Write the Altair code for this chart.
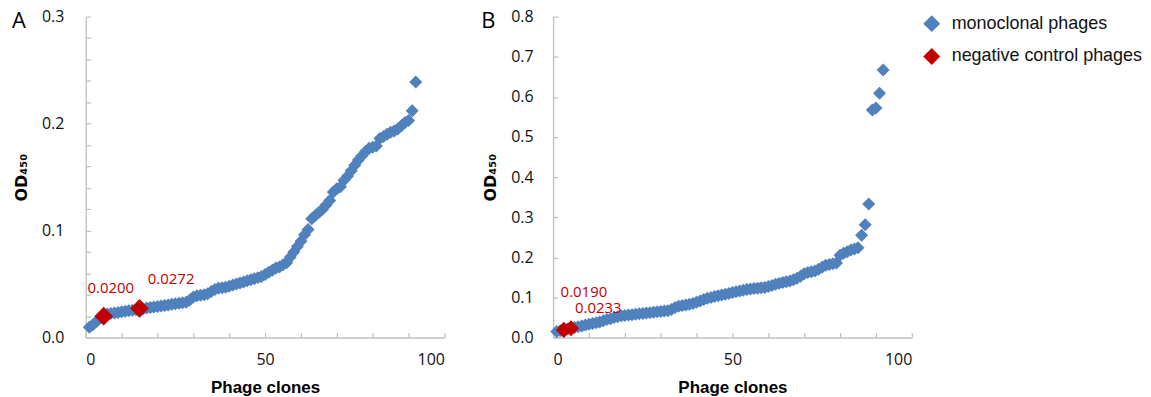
import altair as alt
import pandas as pd

BLUE = "#4F81BD"
RED = "#C00000"
GREY = "#BFBFBF"
series_names = ["monoclonal phages", "negative control phages"]

# ---------------- Panel A data ----------------
clones_a = list(range(1, 93))
od_a = [
    0.0095, 0.012, 0.015, 0.018, 0.0200, 0.022, 0.0225, 0.023, 0.0235, 0.024,
    0.0245, 0.025, 0.0255, 0.026, 0.0272, 0.027, 0.0275, 0.028, 0.0285, 0.029,
    0.0295, 0.030, 0.0305, 0.031, 0.0315, 0.032, 0.0325, 0.033, 0.035, 0.038,
    0.039, 0.0395, 0.040, 0.041, 0.043, 0.045, 0.046, 0.0465, 0.047, 0.048,
    0.049, 0.050, 0.051, 0.052, 0.053, 0.054, 0.055, 0.056, 0.057, 0.059,
    0.061, 0.063, 0.065, 0.066, 0.068, 0.070, 0.075, 0.080, 0.085, 0.090,
    0.096, 0.101, 0.111, 0.114, 0.117, 0.120, 0.124, 0.128, 0.136, 0.139,
    0.141, 0.147, 0.151, 0.156, 0.161, 0.166, 0.170, 0.174, 0.177, 0.178,
    0.179, 0.186, 0.188, 0.190, 0.192, 0.193, 0.195, 0.198, 0.201, 0.203,
    0.212, 0.239,
]
neg_clones_a = [5, 15]
neg_labels_a = ["0.0200", "0.0272"]
neg_label_x_a = [7.0, 23.8]
neg_label_y_a = [0.0466, 0.0544]

# ---------------- Panel B data ----------------
clones_b = list(range(1, 93))
od_b = [
    0.015, 0.017, 0.019, 0.021, 0.0233, 0.025, 0.027, 0.029, 0.031, 0.033,
    0.035, 0.037, 0.039, 0.042, 0.045, 0.047, 0.050, 0.052, 0.054, 0.055,
    0.056, 0.057, 0.058, 0.059, 0.060, 0.061, 0.062, 0.063, 0.064, 0.065,
    0.066, 0.067, 0.070, 0.075, 0.078, 0.080, 0.081, 0.083, 0.085, 0.088,
    0.091, 0.095, 0.098, 0.100, 0.102, 0.104, 0.106, 0.108, 0.110, 0.112,
    0.114, 0.116, 0.118, 0.120, 0.121, 0.122, 0.123, 0.124, 0.125, 0.127,
    0.130, 0.133, 0.135, 0.137, 0.139, 0.141, 0.144, 0.148, 0.153, 0.159,
    0.162, 0.164, 0.166, 0.170, 0.175, 0.180, 0.182, 0.184, 0.186, 0.205,
    0.210, 0.214, 0.218, 0.221, 0.224, 0.255, 0.281, 0.333, 0.567, 0.572,
    0.609, 0.667,
]
neg_clones_b = [3, 5]
neg_labels_b = ["0.0190", "0.0233"]
neg_label_x_b = [8.6, 12.6]
neg_label_y_b = [0.114, 0.0745]


def split(clones, od, neg):
    rows = [
        {"clone": c, "od": v,
         "series": series_names[1] if c in neg else series_names[0]}
        for c, v in zip(clones, od)
    ]
    df = pd.DataFrame(rows)
    return df[df.series == series_names[0]], df[df.series == series_names[1]]


color_scale = alt.Scale(domain=series_names, range=[BLUE, RED])
TICK_FONT = "Open Sans"
TITLE_FONT = "Liberation Sans"


def panel(clones, od, neg, labels, lx, ly, letter, letter_dx, ymax,
          ystep_minor, label_pad, red_size, W=360, H=322):
    mono, negdf = split(clones, od, neg)
    lab_df = pd.DataFrame({"lx": lx, "ly": ly, "txt": labels})
    xs = alt.Scale(domain=[0, 100], nice=False, zero=False)
    ys = alt.Scale(domain=[0, ymax], nice=False)
    n_major = int(round(ymax / 0.1))
    major_y = [round(i * 0.1, 2) for i in range(n_major + 1)]
    n_minor = int(round(ymax / ystep_minor))
    minor_y = [round(i * ystep_minor, 3) for i in range(n_minor + 1)]

    main_x = alt.Axis(orient="bottom", values=[0, 50, 100], tickSize=0,
                      domainColor=GREY, domainWidth=1.3, labelFont=TICK_FONT,
                      labelFontSize=16, labelColor="#111", labelPadding=14,
                      title="Phage clones", titleFont=TITLE_FONT,
                      titleFontSize=17, titleFontWeight="bold",
                      titleColor="#000", titlePadding=12, grid=False)
    main_y = alt.Axis(orient="left", values=major_y, format=".1f", tickSize=0,
                      domainColor=GREY, domainWidth=1.3, labelFont=TICK_FONT,
                      labelFontSize=16, labelColor="#111",
                      labelPadding=label_pad, title="OD₄₅₀",
                      titleFont="DejaVu Sans", titleFontSize=16,
                      titleFontWeight="bold", titleColor="#000",
                      titlePadding=12, grid=False)
    tick_x = alt.Axis(orient="top", offset=-H, values=list(range(0, 101, 10)),
                      tickSize=5, tickColor=GREY, tickWidth=1.2, labels=False,
                      domain=False, title=None, grid=False)
    tick_y = alt.Axis(orient="right", offset=-W, values=minor_y, tickSize=5,
                      tickColor=GREY, tickWidth=1.2, labels=False,
                      domain=False, title=None, grid=False)

    legend = alt.Legend(title=None, orient="none", legendX=840, legendY=-2,
                        padding=0, symbolType="diamond", symbolSize=289,
                        symbolStrokeWidth=0, labelFont=TITLE_FONT,
                        labelFontSize=18, labelColor="#111", rowPadding=15,
                        labelOffset=11, labelLimit=400)

    blue = alt.Chart(mono).mark_point(
        shape="diamond", filled=True, size=170, opacity=1, strokeWidth=0
    ).encode(
        x=alt.X("clone:Q", scale=xs, axis=main_x),
        y=alt.Y("od:Q", scale=ys, axis=main_y),
        color=alt.Color("series:N", scale=color_scale, legend=legend),
    )
    red = alt.Chart(negdf).mark_point(
        shape="diamond", filled=True, size=red_size, opacity=1, strokeWidth=0
    ).encode(
        x=alt.X("clone:Q", scale=xs, axis=tick_x),
        y=alt.Y("od:Q", scale=ys, axis=tick_y),
        color=alt.Color("series:N", scale=color_scale, legend=legend),
    )
    txt = alt.Chart(lab_df).mark_text(
        color=RED, font=TICK_FONT, fontSize=15
    ).encode(
        x=alt.X("lx:Q", scale=xs, axis=None),
        y=alt.Y("ly:Q", scale=ys, axis=None),
        text="txt:N",
    )
    let = alt.Chart(pd.DataFrame({"t": [letter]})).mark_text(
        align="left", baseline="alphabetic", font=TICK_FONT, fontSize=22,
        color="#000"
    ).encode(x=alt.value(letter_dx), y=alt.value(11), text="t:N")
    return alt.layer(blue, red, txt, let).resolve_axis(
        x="independent", y="independent"
    ).properties(width=W, height=H)


pa = panel(clones_a, od_a, neg_clones_a, neg_labels_a, neg_label_x_a,
           neg_label_y_a, "A", -74, 0.3, 0.02, 22, 350)
pb = panel(clones_b, od_b, neg_clones_b, neg_labels_b, neg_label_x_b,
           neg_label_y_b, "B", -72, 0.8, 0.1, 20, 260)

chart = alt.hconcat(pa, pb, spacing=109, bounds="flush").properties(
    padding={"left": 4, "top": 0, "right": 0, "bottom": 0}
).configure_view(stroke=None).configure_axis(grid=False)

chart.save("out.html", embed_options={"renderer": "svg", "actions": False})
